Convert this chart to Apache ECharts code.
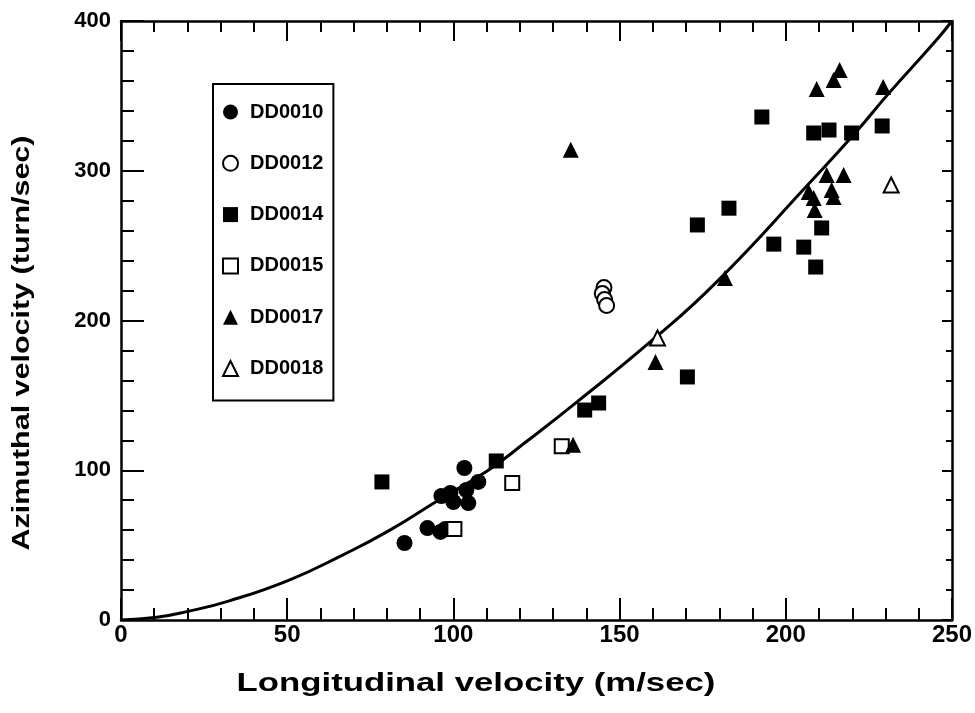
<!DOCTYPE html>
<html>
<head>
<meta charset="utf-8">
<script src="https://cdn.jsdelivr.net/npm/echarts@6/dist/echarts.min.js"></script>
<style>
html,body{margin:0;padding:0;background:#fff;}
#chart{width:975px;height:713px;}
</style>
</head>
<body>
<div id="chart"></div>
<script>
// ---- data ----
var seriesNames = ['DD0010', 'DD0012', 'DD0014', 'DD0015', 'DD0017', 'DD0018'];

var dd0010X = [85.3, 92.2, 96.1, 97.6, 96.4, 99.1, 100.0, 103.9, 104.5, 107.5, 103.3];
var dd0010Y = [51.4, 61.4, 58.8, 60.8, 82.8, 84.8, 78.8, 86.8, 78.1, 92.2, 101.5];

var dd0012X = [145.3, 144.8, 145.5, 146.1];
var dd0012Y = [222.0, 218.0, 214.0, 210.0];

var dd0014X = [78.5, 112.9, 139.5, 143.7, 170.4, 173.4, 182.9, 196.4, 205.4, 209.0, 210.8, 192.8, 208.4, 213.0, 219.8, 229.0];
var dd0014Y = [92.2, 106.2, 140.2, 144.9, 162.3, 263.8, 275.0, 251.0, 249.0, 235.7, 261.8, 335.9, 325.2, 327.2, 325.2, 329.9];

var dd0015X = [100.3, 117.7, 132.6];
var dd0015Y = [60.8, 91.5, 116.0];

var dd0017X = [135.3, 136.0, 160.8, 181.7, 209.3, 214.4, 216.2, 229.3, 212.3, 217.4, 206.9, 213.8, 214.4, 208.4, 208.7];
var dd0017Y = [314.0, 117.0, 172.3, 228.4, 354.6, 360.6, 367.3, 356.0, 297.2, 297.2, 285.8, 287.1, 282.5, 281.8, 273.8];

var dd0018X = [161.4, 231.7];
var dd0018Y = [188.3, 290.5];

// fitted curve, read as points along the drawn line
var curveX = [0, 10.8, 19.8, 32.6, 50.6, 66.5, 80.5, 95.5, 110.5, 121.6, 137.4, 159.9, 179.3, 207.2, 220.4, 231.1, 245.2, 250];
var curveY = [0, 1.8, 5.6, 12.8, 26.7, 43.2, 59.5, 80.0, 100.0, 118.5, 146.0, 187.0, 226.0, 292.0, 324.0, 352.0, 387.0, 400];

var xTicks = [0, 50, 100, 150, 200, 250];
var yTicks = [0, 100, 200, 300, 400];

var xTitle = 'Longitudinal velocity (m/sec)';
var yTitle = 'Azimuthal velocity (turn/sec)';

// ---- build ----
function pairs(xs, ys) { return xs.map(function (x, i) { return [x, ys[i]]; }); }

var FONT = '"Liberation Sans", Arial, Helvetica, sans-serif';
var symbols = ['circle', 'emptyCircle', 'rect', 'emptyRect', 'triangle', 'emptyTriangle'];
var sizes = [16, 15, 15, 14, 16, 15];
var datasets = [
  pairs(dd0010X, dd0010Y), pairs(dd0012X, dd0012Y), pairs(dd0014X, dd0014Y),
  pairs(dd0015X, dd0015Y), pairs(dd0017X, dd0017Y), pairs(dd0018X, dd0018Y)
];

var series = [{
  name: 'fit',
  type: 'line',
  data: pairs(curveX, curveY),
  smooth: 0.5,
  showSymbol: false,
  symbol: 'none',
  lineStyle: { color: '#000', width: 3, opacity: 1 },
  z: 1,
  silent: true
}];
seriesNames.forEach(function (n, i) {
  series.push({
    name: n,
    type: 'scatter',
    data: datasets[i],
    symbol: symbols[i],
    symbolSize: sizes[i],
    itemStyle: { color: '#000', opacity: 1, borderColor: '#000', borderWidth: symbols[i].indexOf('empty') === 0 ? 2 : 0 },
    z: 3
  });
});

function makeAxis(pos, show, min, max, interval, len, minorLen, labelSize, margin) {
  return {
    type: 'value', position: pos, min: min, max: max, interval: interval,
    axisLine: { show: true, onZero: false, lineStyle: { color: '#000', width: 2.5 } },
    axisTick: { show: true, inside: true, length: len, lineStyle: { color: '#000', width: 2 } },
    minorTick: { show: true, splitNumber: 5, length: minorLen, lineStyle: { color: '#000', width: 2 } },
    splitLine: { show: false },
    minorSplitLine: { show: false },
    axisLabel: { show: show, color: '#000', fontFamily: FONT, fontWeight: 'bold', fontSize: labelSize, margin: margin }
  };
}

var chart = echarts.init(document.getElementById('chart'), null, { renderer: 'canvas' });
chart.setOption({
  animation: false,
  backgroundColor: '#fff',
  grid: { left: 121, right: 19, top: 21, bottom: 93, containLabel: false },
  xAxis: [
    makeAxis('bottom', true, xTicks[0], xTicks[xTicks.length - 1], 50, 22, 12, 24, 3),
    makeAxis('top', false, xTicks[0], xTicks[xTicks.length - 1], 50, 20, 11, 24, 3)
  ],
  yAxis: [
    makeAxis('left', true, yTicks[0], yTicks[yTicks.length - 1], 100, 23, 13, 22, 10),
    makeAxis('right', false, yTicks[0], yTicks[yTicks.length - 1], 100, 10, 6, 22, 10)
  ],
  legend: {
    data: seriesNames,
    orient: 'vertical',
    left: 213,
    top: 84,
    padding: [18, 10, 22, 9],
    itemGap: 31.3,
    itemWidth: 15,
    itemHeight: 15,
    borderColor: '#000',
    borderWidth: 2,
    borderRadius: 0,
    backgroundColor: '#fff',
    itemStyle: { opacity: 1 },
    textStyle: { color: '#000', fontFamily: FONT, fontWeight: 'bold', fontSize: 20, lineHeight: 20, padding: [0, 0, 0, 7] }
  },
  graphic: [
    {
      type: 'text', x: 476, y: 684, scaleX: 1.39, scaleY: 1,
      style: { text: xTitle, font: 'bold 25px ' + FONT, fill: '#000', textAlign: 'center', textVerticalAlign: 'middle' }
    },
    {
      type: 'text', x: 22, y: 343, rotation: Math.PI / 2, scaleX: 1.27, scaleY: 1,
      style: { text: yTitle, font: 'bold 24px ' + FONT, fill: '#000', textAlign: 'center', textVerticalAlign: 'middle' }
    }
  ],
  series: series
});
</script>
</body>
</html>
